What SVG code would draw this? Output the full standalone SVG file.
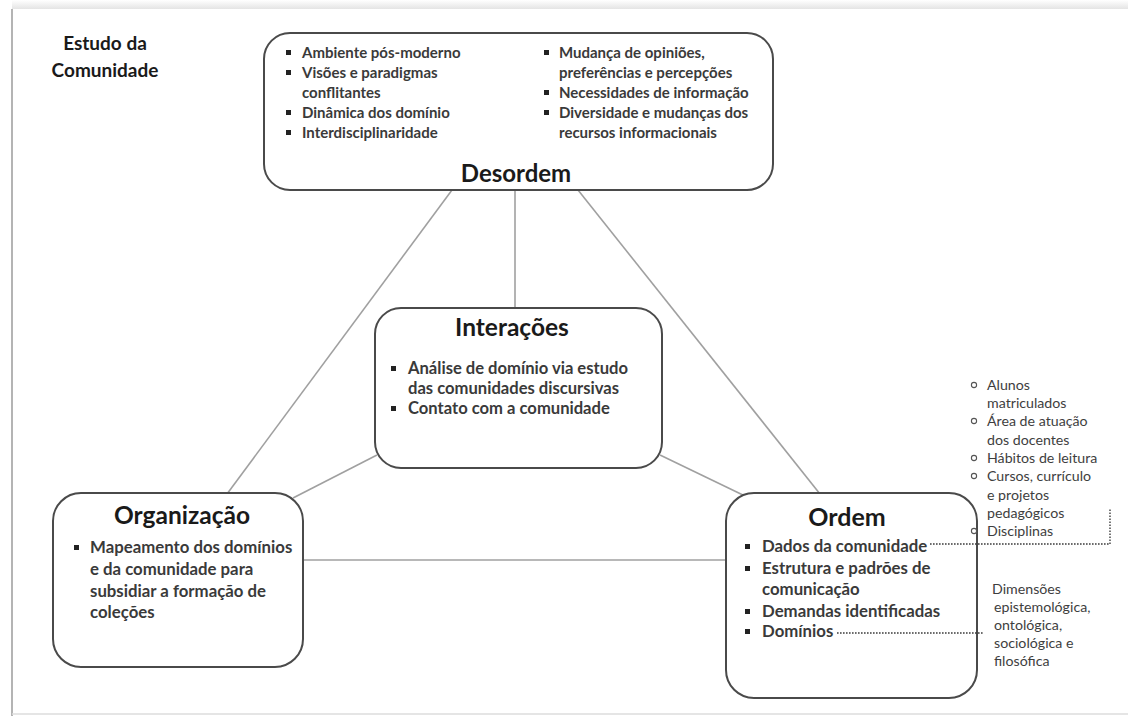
<svg xmlns="http://www.w3.org/2000/svg" width="1128" height="716" viewBox="0 0 1128 716">
<defs>
<linearGradient id="topshade" x1="0" y1="0" x2="0" y2="1">
<stop offset="0" stop-color="#ffffff"/>
<stop offset="1" stop-color="#e4e4e4"/>
</linearGradient>
<style>
.box{fill:#fff;stroke:#4a4a4a;stroke-width:2}
.conn{stroke:#a0a0a0;stroke-width:1.6;fill:none}
.dot{stroke:#3c3c3c;stroke-width:1.4;stroke-dasharray:1.6 1.4;fill:none}
.title{font-family:Lato,"Liberation Sans",sans-serif;font-weight:bold;fill:#1a1a1a;text-anchor:middle}
.item{font-family:Lato,"Liberation Sans",sans-serif;font-weight:bold;fill:#3a3a3a}
.note{font-family:Lato,"Liberation Sans",sans-serif;font-size:14.2px;fill:#3e3e3e}
.sq{fill:#222}
.circ{fill:none;stroke:#555;stroke-width:1.1}
</style>
</defs>
<rect x="0" y="0" width="1128" height="716" fill="#fff"/>
<rect x="12" y="0" width="1116" height="9" fill="url(#topshade)"/>
<line x1="12" y1="9" x2="12" y2="716" stroke="#b4b4b4" stroke-width="2"/>
<line x1="12" y1="714" x2="1128" y2="714" stroke="#dcdcdc" stroke-width="1.5"/>

<g id="heading">
<text class="title" x="105" y="50" font-size="19" font-weight="600">Estudo da</text>
<text class="title" x="105" y="77" font-size="19" font-weight="600">Comunidade</text>
</g>

<g id="connectors">
<line class="conn" x1="452" y1="190" x2="227" y2="494"/>
<line class="conn" x1="515" y1="190" x2="515" y2="308"/>
<line class="conn" x1="578" y1="190" x2="820" y2="494"/>
<line class="conn" x1="377" y1="455" x2="293" y2="498"/>
<line class="conn" x1="660" y1="455" x2="745" y2="496"/>
<line class="conn" x1="303" y1="560" x2="726" y2="560"/>
</g>

<g id="desordem">
<rect class="box" x="264" y="33" width="509" height="157" rx="26"/>
<g class="item" font-size="15">
<rect class="sq" x="286" y="50" width="5" height="5"/>
<text x="302" y="58">Ambiente pós-moderno</text>
<rect class="sq" x="286" y="70" width="5" height="5"/>
<text x="302" y="78">Visões e paradigmas</text>
<text x="302" y="98">conflitantes</text>
<rect class="sq" x="286" y="110" width="5" height="5"/>
<text x="302" y="118">Dinâmica dos domínio</text>
<rect class="sq" x="286" y="130" width="5" height="5"/>
<text x="302" y="138">Interdisciplinaridade</text>
<rect class="sq" x="544" y="50" width="5" height="5"/>
<text x="559" y="58">Mudança de opiniões,</text>
<text x="559" y="78">preferências e percepções</text>
<rect class="sq" x="544" y="90" width="5" height="5"/>
<text x="559" y="98">Necessidades de informação</text>
<rect class="sq" x="544" y="110" width="5" height="5"/>
<text x="559" y="118">Diversidade e mudanças dos</text>
<text x="559" y="138">recursos informacionais</text>
</g>
<text class="title" x="516" y="182" font-size="24">Desordem</text>
</g>

<g id="interacoes">
<rect class="box" x="375" y="308" width="287" height="160" rx="26"/>
<text class="title" x="512" y="336" font-size="24.5">Interações</text>
<g class="item" font-size="16.6">
<rect class="sq" x="391" y="366" width="5" height="5"/>
<text x="408" y="374">Análise de domínio via estudo</text>
<text x="408" y="394">das comunidades discursivas</text>
<rect class="sq" x="391" y="406" width="5" height="5"/>
<text x="408" y="414">Contato com a comunidade</text>
</g>
</g>

<g id="organizacao">
<rect class="box" x="53" y="493" width="250" height="174" rx="28"/>
<text class="title" x="182" y="524" font-size="24.5">Organização</text>
<g class="item" font-size="16.8">
<rect class="sq" x="74" y="545" width="5" height="5"/>
<text x="90" y="553">Mapeamento dos domínios</text>
<text x="90" y="575">e da comunidade para</text>
<text x="90" y="597">subsidiar a formação de</text>
<text x="90" y="618">coleções</text>
</g>
</g>

<g id="ordem">
<rect class="box" x="726" y="493" width="251" height="205" rx="28"/>
<text class="title" x="847" y="526" font-size="25">Ordem</text>
<g class="item" font-size="16.8">
<rect class="sq" x="745" y="544" width="5" height="5"/>
<text x="762" y="552">Dados da comunidade</text>
<rect class="sq" x="745" y="566" width="5" height="5"/>
<text x="762" y="574">Estrutura e padrões de</text>
<text x="762" y="595">comunicação</text>
<rect class="sq" x="745" y="609" width="5" height="5"/>
<text x="762" y="617">Demandas identificadas</text>
<rect class="sq" x="745" y="629" width="5" height="5"/>
<text x="762" y="637">Domínios</text>
</g>
</g>

<g id="dados-lista">
<circle class="circ" cx="974" cy="385" r="2.6"/>
<text class="note" x="987" y="390">Alunos</text>
<text class="note" x="987" y="408">matriculados</text>
<circle class="circ" cx="974" cy="421" r="2.6"/>
<text class="note" x="987" y="426">Área de atuação</text>
<text class="note" x="987" y="445">dos docentes</text>
<circle class="circ" cx="974" cy="458" r="2.6"/>
<text class="note" x="987" y="463">Hábitos de leitura</text>
<circle class="circ" cx="974" cy="476" r="2.6"/>
<text class="note" x="987" y="481">Cursos, currículo</text>
<text class="note" x="987" y="500">e projetos</text>
<text class="note" x="987" y="518">pedagógicos</text>
<circle class="circ" cx="974" cy="531" r="2.6"/>
<text class="note" x="987" y="536">Disciplinas</text>
</g>

<g id="dimensoes">
<text class="note" x="992" y="594">Dimensões</text>
<text class="note" x="994" y="612">epistemológica,</text>
<text class="note" x="994" y="630">ontológica,</text>
<text class="note" x="994" y="648">sociológica e</text>
<text class="note" x="994" y="666">filosófica</text>
</g>

<g id="annotation-connectors">
<polyline class="dot" points="930,544 1110,544 1110,509"/>
<line class="dot" x1="837" y1="633" x2="983" y2="633"/>
</g>
</svg>
